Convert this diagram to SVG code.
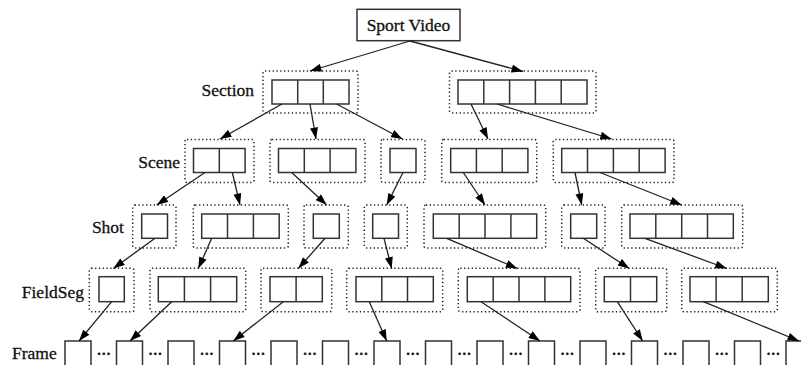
<svg xmlns="http://www.w3.org/2000/svg" width="801" height="365" viewBox="0 0 801 365">
<defs>
<style>
.lbl{font-family:"Liberation Serif","Times New Roman",serif;font-size:17.5px;fill:#111;stroke:#111;stroke-width:0.3}
.dots{font-family:"Liberation Serif","Times New Roman",serif;font-size:14px;font-weight:bold;fill:#111;stroke:#111;stroke-width:0.4;text-anchor:middle}
.grp{fill:none;stroke:#222;stroke-width:1.5;stroke-dasharray:1.3 2.5}
.cell{fill:#fff;stroke:#333;stroke-width:1.5}
.div{stroke:#333;stroke-width:1.5}
.top{fill:#fff;stroke:#333;stroke-width:1.5}
.edge{stroke:#222;stroke-width:1.3;fill:none;marker-end:url(#ah)}
</style>
<marker id="ah" viewBox="0 0 10 7" refX="10" refY="3.5" markerWidth="12" markerHeight="8" markerUnits="userSpaceOnUse" orient="auto">
<path d="M0,0 L10,3.5 L0,7 z" fill="#000"/>
</marker>
</defs>
<rect width="801" height="365" fill="#fff"/>

<text class="lbl" x="254" y="96" text-anchor="end">Section</text>
<text class="lbl" x="180" y="167.5" text-anchor="end">Scene</text>
<text class="lbl" x="124" y="232.5" text-anchor="end">Shot</text>
<text class="lbl" x="84" y="297.5" text-anchor="end">FieldSeg</text>
<text class="lbl" x="56.7" y="359" text-anchor="end">Frame</text>

<g id="sport-video">
<rect class="top" x="357" y="9.3" width="103" height="31.4"/>
<text class="lbl" x="408.5" y="31" text-anchor="middle">Sport Video</text>
</g>

<g id="section-1">
<rect class="grp" x="263" y="71" width="95" height="42" rx="2"/>
<rect class="cell" x="272" y="80" width="77" height="24"/>
<line class="div" x1="297.7" y1="80" x2="297.7" y2="104"/>
<line class="div" x1="323.3" y1="80" x2="323.3" y2="104"/>
</g>
<g id="section-2">
<rect class="grp" x="449.5" y="71" width="146.5" height="42" rx="2"/>
<rect class="cell" x="458" y="80" width="129" height="24"/>
<line class="div" x1="483.8" y1="80" x2="483.8" y2="104"/>
<line class="div" x1="509.6" y1="80" x2="509.6" y2="104"/>
<line class="div" x1="535.4" y1="80" x2="535.4" y2="104"/>
<line class="div" x1="561.2" y1="80" x2="561.2" y2="104"/>
</g>

<g id="scene-1">
<rect class="grp" x="185" y="139.5" width="69" height="43" rx="2"/>
<rect class="cell" x="193.5" y="148.5" width="51.6" height="24"/>
<line class="div" x1="219.3" y1="148.5" x2="219.3" y2="172.5"/>
</g>
<g id="scene-2">
<rect class="grp" x="270" y="139.5" width="95" height="43" rx="2"/>
<rect class="cell" x="278.5" y="148.5" width="77.4" height="24"/>
<line class="div" x1="304.3" y1="148.5" x2="304.3" y2="172.5"/>
<line class="div" x1="330.1" y1="148.5" x2="330.1" y2="172.5"/>
</g>
<g id="scene-3">
<rect class="grp" x="381" y="139.5" width="44" height="43" rx="2"/>
<rect class="cell" x="390" y="148.5" width="26" height="24"/>
</g>
<g id="scene-4">
<rect class="grp" x="441.7" y="139.5" width="95" height="43" rx="2"/>
<rect class="cell" x="450.7" y="148.5" width="77.2" height="24"/>
<line class="div" x1="476.4" y1="148.5" x2="476.4" y2="172.5"/>
<line class="div" x1="502.2" y1="148.5" x2="502.2" y2="172.5"/>
</g>
<g id="scene-5">
<rect class="grp" x="553.3" y="139.5" width="120.7" height="43" rx="2"/>
<rect class="cell" x="561.7" y="148.5" width="103.4" height="24"/>
<line class="div" x1="587.5" y1="148.5" x2="587.5" y2="172.5"/>
<line class="div" x1="613.4" y1="148.5" x2="613.4" y2="172.5"/>
<line class="div" x1="639.2" y1="148.5" x2="639.2" y2="172.5"/>
</g>

<g id="shot-1">
<rect class="grp" x="132.7" y="205" width="43.3" height="43" rx="2"/>
<rect class="cell" x="141.7" y="214" width="25.8" height="24.3"/>
</g>
<g id="shot-2">
<rect class="grp" x="193.3" y="205" width="95" height="43" rx="2"/>
<rect class="cell" x="201.7" y="214" width="77.5" height="24.3"/>
<line class="div" x1="227.5" y1="214" x2="227.5" y2="238.3"/>
<line class="div" x1="253.4" y1="214" x2="253.4" y2="238.3"/>
</g>
<g id="shot-3">
<rect class="grp" x="304" y="205" width="44.3" height="43" rx="2"/>
<rect class="cell" x="313.3" y="214" width="26" height="24.3"/>
</g>
<g id="shot-4">
<rect class="grp" x="364.3" y="205" width="43" height="43" rx="2"/>
<rect class="cell" x="372.7" y="214" width="25.8" height="24.3"/>
</g>
<g id="shot-5">
<rect class="grp" x="424" y="205" width="121.7" height="43" rx="2"/>
<rect class="cell" x="433.3" y="214" width="103.4" height="24.3"/>
<line class="div" x1="459.2" y1="214" x2="459.2" y2="238.3"/>
<line class="div" x1="485" y1="214" x2="485" y2="238.3"/>
<line class="div" x1="510.9" y1="214" x2="510.9" y2="238.3"/>
</g>
<g id="shot-6">
<rect class="grp" x="561.7" y="205" width="43.3" height="43" rx="2"/>
<rect class="cell" x="570.7" y="214" width="26" height="24.3"/>
</g>
<g id="shot-7">
<rect class="grp" x="621.7" y="205" width="121" height="43" rx="2"/>
<rect class="cell" x="630" y="214" width="103.3" height="24.3"/>
<line class="div" x1="655.8" y1="214" x2="655.8" y2="238.3"/>
<line class="div" x1="681.7" y1="214" x2="681.7" y2="238.3"/>
<line class="div" x1="707.5" y1="214" x2="707.5" y2="238.3"/>
</g>

<g id="fieldseg-1">
<rect class="grp" x="89.3" y="268.3" width="44.7" height="43.4" rx="2"/>
<rect class="cell" x="99" y="276.7" width="25.3" height="25"/>
</g>
<g id="fieldseg-2">
<rect class="grp" x="150" y="268.3" width="95.7" height="43.4" rx="2"/>
<rect class="cell" x="158.3" y="276.7" width="78.4" height="25"/>
<line class="div" x1="184.4" y1="276.7" x2="184.4" y2="301.7"/>
<line class="div" x1="210.6" y1="276.7" x2="210.6" y2="301.7"/>
</g>
<g id="fieldseg-3">
<rect class="grp" x="261" y="268.3" width="70.7" height="43.4" rx="2"/>
<rect class="cell" x="270" y="276.7" width="52.3" height="25"/>
<line class="div" x1="296.1" y1="276.7" x2="296.1" y2="301.7"/>
</g>
<g id="fieldseg-4">
<rect class="grp" x="346.7" y="268.3" width="96" height="43.4" rx="2"/>
<rect class="cell" x="356" y="276.7" width="77.3" height="25"/>
<line class="div" x1="381.8" y1="276.7" x2="381.8" y2="301.7"/>
<line class="div" x1="407.5" y1="276.7" x2="407.5" y2="301.7"/>
</g>
<g id="fieldseg-5">
<rect class="grp" x="458.3" y="268.3" width="121.7" height="43.4" rx="2"/>
<rect class="cell" x="467.3" y="276.7" width="103.4" height="25"/>
<line class="div" x1="493.2" y1="276.7" x2="493.2" y2="301.7"/>
<line class="div" x1="519" y1="276.7" x2="519" y2="301.7"/>
<line class="div" x1="544.9" y1="276.7" x2="544.9" y2="301.7"/>
</g>
<g id="fieldseg-6">
<rect class="grp" x="595.7" y="268.3" width="71" height="43.4" rx="2"/>
<rect class="cell" x="604.3" y="276.7" width="52.4" height="25"/>
<line class="div" x1="630.5" y1="276.7" x2="630.5" y2="301.7"/>
</g>
<g id="fieldseg-7">
<rect class="grp" x="681.7" y="268.3" width="95.6" height="43.4" rx="2"/>
<rect class="cell" x="690" y="276.7" width="78.3" height="25"/>
<line class="div" x1="716.1" y1="276.7" x2="716.1" y2="301.7"/>
<line class="div" x1="742.2" y1="276.7" x2="742.2" y2="301.7"/>
</g>

<g id="frames">
<rect class="cell" x="65" y="341" width="26" height="27"/>
<rect class="cell" x="116.5" y="341" width="26" height="27"/>
<rect class="cell" x="168" y="341" width="26" height="27"/>
<rect class="cell" x="219.5" y="341" width="26" height="27"/>
<rect class="cell" x="271" y="341" width="26" height="27"/>
<rect class="cell" x="322.5" y="341" width="26" height="27"/>
<rect class="cell" x="374" y="341" width="26" height="27"/>
<rect class="cell" x="425.5" y="341" width="26" height="27"/>
<rect class="cell" x="477" y="341" width="26" height="27"/>
<rect class="cell" x="528.5" y="341" width="26" height="27"/>
<rect class="cell" x="580" y="341" width="26" height="27"/>
<rect class="cell" x="631.5" y="341" width="26" height="27"/>
<rect class="cell" x="683" y="341" width="26" height="27"/>
<rect class="cell" x="734.5" y="341" width="26" height="27"/>
<rect class="cell" x="786" y="341" width="26" height="27"/>
<text class="dots" x="103.8" y="355">…</text>
<text class="dots" x="155.3" y="355">…</text>
<text class="dots" x="206.8" y="355">…</text>
<text class="dots" x="258.3" y="355">…</text>
<text class="dots" x="309.8" y="355">…</text>
<text class="dots" x="361.3" y="355">…</text>
<text class="dots" x="412.8" y="355">…</text>
<text class="dots" x="464.3" y="355">…</text>
<text class="dots" x="515.8" y="355">…</text>
<text class="dots" x="567.3" y="355">…</text>
<text class="dots" x="618.8" y="355">…</text>
<text class="dots" x="670.3" y="355">…</text>
<text class="dots" x="721.8" y="355">…</text>
<text class="dots" x="773.3" y="355">…</text>
</g>

<g id="connectors">
<line class="edge" x1="410" y1="41" x2="310" y2="71"/>
<line class="edge" x1="410" y1="41" x2="523" y2="71.5"/>
<line class="edge" x1="282" y1="104" x2="220" y2="139"/>
<line class="edge" x1="310" y1="104" x2="316" y2="139"/>
<line class="edge" x1="336.5" y1="104" x2="402.5" y2="139"/>
<line class="edge" x1="471" y1="104" x2="488" y2="139"/>
<line class="edge" x1="497" y1="104" x2="611.7" y2="139"/>
<line class="edge" x1="205" y1="172.5" x2="156.7" y2="205"/>
<line class="edge" x1="232.3" y1="172.5" x2="240" y2="205"/>
<line class="edge" x1="291.7" y1="172.5" x2="326.7" y2="205"/>
<line class="edge" x1="403" y1="172.5" x2="386.7" y2="205"/>
<line class="edge" x1="463.3" y1="172.5" x2="485" y2="205"/>
<line class="edge" x1="575" y1="172.5" x2="581.7" y2="205"/>
<line class="edge" x1="600" y1="172.5" x2="681.7" y2="205"/>
<line class="edge" x1="155" y1="238.3" x2="113.3" y2="268.5"/>
<line class="edge" x1="211.7" y1="238.3" x2="198.3" y2="268.5"/>
<line class="edge" x1="325" y1="238.3" x2="298.3" y2="268.5"/>
<line class="edge" x1="384" y1="238.3" x2="391.7" y2="268.5"/>
<line class="edge" x1="446.7" y1="238.3" x2="517.3" y2="268.5"/>
<line class="edge" x1="583.3" y1="238.3" x2="629.3" y2="268.5"/>
<line class="edge" x1="645" y1="238.3" x2="726.7" y2="268.5"/>
<line class="edge" x1="111.7" y1="301.7" x2="79" y2="341"/>
<line class="edge" x1="171.7" y1="301.7" x2="130" y2="341"/>
<line class="edge" x1="283.3" y1="301.7" x2="233.3" y2="341"/>
<line class="edge" x1="369.3" y1="301.7" x2="386.7" y2="341"/>
<line class="edge" x1="481" y1="301.7" x2="540" y2="341"/>
<line class="edge" x1="617.3" y1="301.7" x2="642.7" y2="341"/>
<line class="edge" x1="703.3" y1="301.7" x2="799" y2="341"/>
</g>
</svg>
